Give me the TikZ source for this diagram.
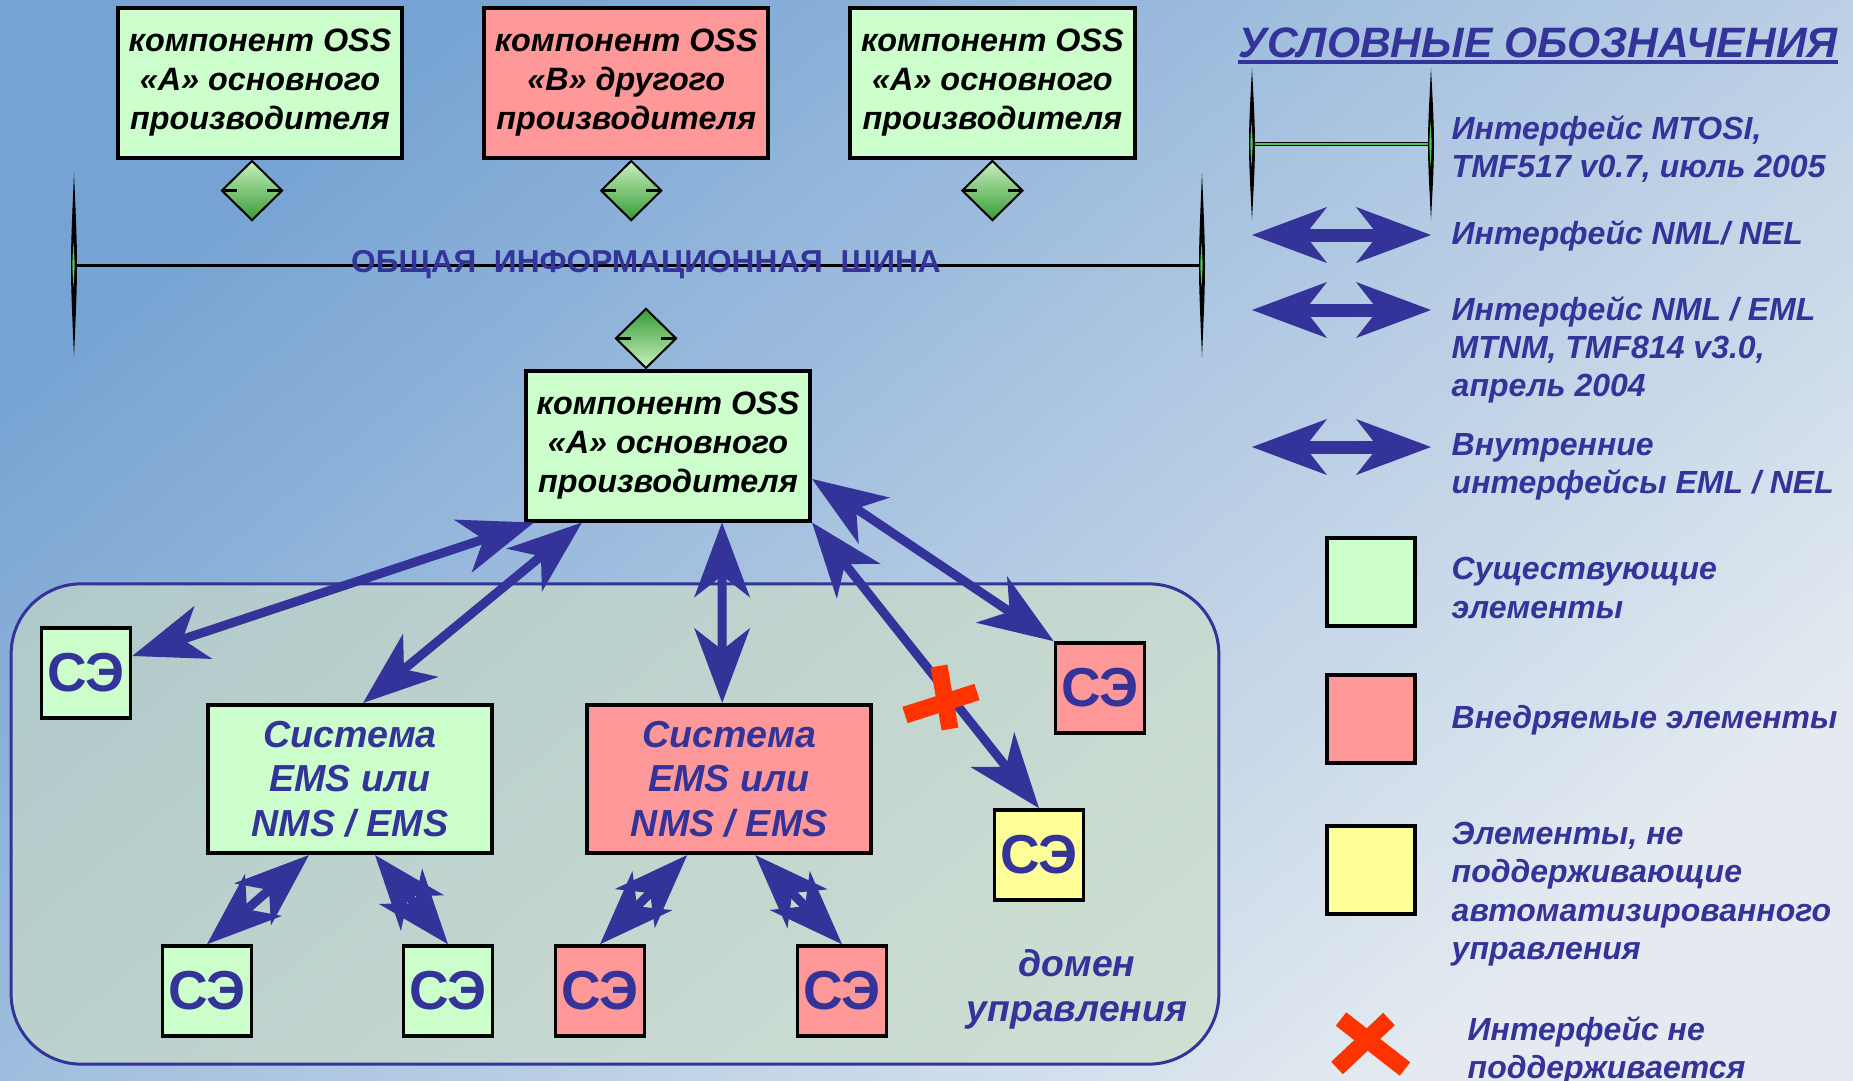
\documentclass[tikz,border=0pt]{standalone}
\usepackage{fontspec}
\setmainfont{Liberation Sans}
\usetikzlibrary{arrows.meta,positioning,shapes.geometric}

% thin lens-shaped end cap of a bus line: x, top y, bottom y
\newcommand\buscap[3]{%
  \fill (#1,#2) .. controls ({#1+4},{(#2+#3)/2}) .. (#1,#3) .. controls ({#1-4},{(#2+#3)/2}) .. (#1,#2);
  \fill[mgreen] ({#1-0.5},{(#2+#3)/2-22}) .. controls ({#1+1},{(#2+#3)/2}) .. ({#1-0.5},{(#2+#3)/2+22}) .. controls ({#1-2},{(#2+#3)/2}) .. ({#1-0.5},{(#2+#3)/2-22});
}

\begin{document}
\begin{tikzpicture}[
  x=0.01cm, y=-0.01cm,
  >={Stealth[length=0.75cm, width=0.56cm, inset=0.22cm, line width=0pt]},
  comp/.style={draw, line width=0.04cm, minimum width=2.84cm, minimum height=1.49cm, align=center, inner sep=0pt, font=\fontsize{9.2}{11.1}\selectfont\bfseries\itshape},
  sysbox/.style={draw, line width=0.04cm, minimum width=2.84cm, minimum height=1.48cm, align=center, inner sep=0pt, text=cblue, font=\fontsize{10.7}{12.7}\selectfont\bfseries\itshape},
  ne/.style={draw, line width=0.035cm, minimum width=0.89cm, minimum height=0.9cm, inner sep=0pt, text=cblue, font=\fontsize{15.6}{17}\selectfont\bfseries},
  legsq/.style={draw, line width=0.045cm, minimum size=0.88cm, inner sep=0pt},
  joint/.style={diamond, draw, line width=0.02cm, minimum width=0.61cm, minimum height=0.6cm, inner sep=0pt,
    path picture={\draw[line width=0.025cm] (path picture bounding box.west) -- ++(0.15cm,0) (path picture bounding box.east) -- ++(-0.15cm,0);}},
  link/.style={<->, draw=cblue, line width=0.09cm},
  legarrow/.style={<->, draw=cblue, line width=0.13cm},
  note/.style={anchor=west, align=left, inner sep=0pt, text=cblue, font=\fontsize{9.1}{10.9}\selectfont\bfseries\itshape},
  nox/.style={draw=cred, line width=0.17cm}
]

\definecolor{cblue}{RGB}{51,51,153}
\definecolor{cgreen}{RGB}{204,255,204}
\definecolor{cpink}{RGB}{255,153,153}
\definecolor{cyellow}{RGB}{255,255,153}
\definecolor{cred}{RGB}{255,51,0}
\definecolor{jlight}{RGB}{200,240,190}
\definecolor{jdark}{RGB}{55,155,55}
\definecolor{mgreen}{RGB}{80,200,80}
\definecolor{bgtl}{RGB}{118,163,211}
\definecolor{bgbr}{RGB}{228,234,240}
\definecolor{dfill}{RGB}{205,222,195}

\useasboundingbox (0,0) rectangle (1853,1081);
\shade[top color=bgtl, bottom color=bgbr, shading angle=40] (0,0) rectangle (1853,1081);

% management domain
\node[draw=cblue, line width=0.03cm, rounded corners=0.7cm, fill=dfill, fill opacity=0.6, minimum width=12.07cm, minimum height=4.8cm] (domain) at (615,824) {};
\node[text=cblue, align=center, font=\fontsize{10.6}{12.8}\selectfont\bfseries\itshape] (domlabel) at (1077,989) {домен\\управления};

% OSS components on the bus
\node[comp, fill=cgreen] (oss1) at (260,83) {компонент OSS\\«А» основного\\производителя};
\node[comp, fill=cpink, right=0.78cm of oss1] (oss2) {компонент OSS\\«В» другого\\производителя};
\node[comp, fill=cgreen, right=0.78cm of oss2] (oss3) {компонент OSS\\«А» основного\\производителя};

\node[joint, top color=jlight, bottom color=jdark, below=0pt of oss1, xshift=-0.08cm] (j1) {};
\node[joint, top color=jlight, bottom color=jdark, below=0pt of oss2, xshift=0.05cm] (j2) {};
\node[joint, top color=jlight, bottom color=jdark, below=0pt of oss3] (j3) {};

% common information bus
\coordinate (busL) at (74,265);
\coordinate (busR) at (1202,265);
\draw[line width=0.03cm] (busL) -- (busR);
\buscap{74}{173}{357}
\buscap{1202}{173}{357}
\node[text=cblue, font=\fontsize{9}{10}\selectfont\bfseries] (buslabel) at (646,265) {ОБЩАЯ~ ИНФОРМАЦИОННАЯ~ ШИНА};

% OSS component of the domain
\node[comp, fill=cgreen] (ctr) at (668,446) {компонент OSS\\«А» основного\\производителя};
\node[joint, top color=jdark, bottom color=jlight, above=0pt of ctr, xshift=-0.22cm] (j4) {};

% EMS systems and network elements
\node[sysbox, fill=cgreen] (sysA) at (350,779) {Система\\EMS или\\NMS / EMS};
\node[sysbox, fill=cpink, right=0.91cm of sysA] (sysB) {Система\\EMS или\\NMS / EMS};

\node[ne, fill=cgreen] (ne1) at (86,673) {СЭ};
\node[ne, fill=cpink] (neP) at (1100,688) {СЭ};
\node[ne, fill=cyellow] (neY) at (1039,855) {СЭ};
\node[ne, fill=cgreen] (neA) at (207,991) {СЭ};
\node[ne, fill=cgreen] (neB) at (448,991) {СЭ};
\node[ne, fill=cpink] (neC) at (600,991) {СЭ};
\node[ne, fill=cpink] (neD) at (842,991) {СЭ};

\draw[link] ([xshift=0.1cm]ctr.south west) -- ([yshift=0.17cm]ne1.east);
\draw[link] ([xshift=0.58cm]ctr.south west) -- ([xshift=0.13cm]sysA.north);
\draw[link] ([xshift=0.54cm]ctr.south) -- ([xshift=-0.07cm]sysB.north);
\draw[link] (ctr.south east) -- (neY.north);
\draw[link] ([yshift=-0.33cm]ctr.east) -- (neP.north west);

\draw[link] ([xshift=-0.41cm]sysA.south) -- (neA.north);
\draw[link] ([xshift=0.25cm]sysA.south) -- (neB.north);
\draw[link] ([xshift=-0.42cm]sysB.south) -- (neC.north);
\draw[link] ([xshift=0.26cm]sysB.south) -- (neD.north);

% interface not supported
\draw[nox] (905,715) -- (977,692);
\draw[nox] (939,666) -- (950,729);

% legend
\node[anchor=base, inner sep=0pt, text=cblue, font=\fontsize{12.1}{14}\selectfont\bfseries\itshape] (legtitle) at (1538,57) {УСЛОВНЫЕ ОБОЗНАЧЕНИЯ};
\draw[cblue, line width=0.035cm] ([yshift=-0.05cm]legtitle.base west) -- ([yshift=-0.05cm]legtitle.base east);

\coordinate (m1) at (1252,144);
\coordinate (m2) at (1431,144);
\draw[line width=0.015cm, double=mgreen, double distance=0.015cm] (m1) -- (m2);
\buscap{1252}{68}{220}
\buscap{1431}{68}{220}
\node[note] (t1) at (1451,149) {Интерфейс MTOSI,\\TMF517 v0.7, июль 2005};

\coordinate (a1l) at (1252,235);
\coordinate (a1r) at (1431,235);
\draw[legarrow] (a1l) -- (a1r);
\node[note] (t2) at (1451,236) {Интерфейс NML/ NEL};

\coordinate (a2l) at (1252,310);
\coordinate (a2r) at (1431,310);
\draw[legarrow] (a2l) -- (a2r);
\node[note] (t3) at (1451,350) {Интерфейс NML / EML\\MTNM, TMF814 v3.0,\\апрель 2004};

\coordinate (a3l) at (1252,447);
\coordinate (a3r) at (1431,447);
\draw[legarrow] (a3l) -- (a3r);
\node[note] (t4) at (1451,467) {Внутренние\\интерфейсы EML / NEL};

\node[legsq, fill=cgreen] (sq1) at (1371,582) {};
\node[note] (t5) at (1451,588) {Существующие\\элементы};
\node[legsq, fill=cpink] (sq2) at (1371,719) {};
\node[note] (t6) at (1451,720) {Внедряемые элементы};
\node[legsq, fill=cyellow] (sq3) at (1371,870) {};
\node[note] (t7) at (1451,894) {Элементы, не\\поддерживающие\\автоматизированного\\управления};

\draw[nox] (1341,1019) -- (1405,1069);
\draw[nox] (1389,1019) -- (1337,1068);
\node[note] (t8) at (1467,1051) {Интерфейс не\\поддерживается};

\end{tikzpicture}
\end{document}
